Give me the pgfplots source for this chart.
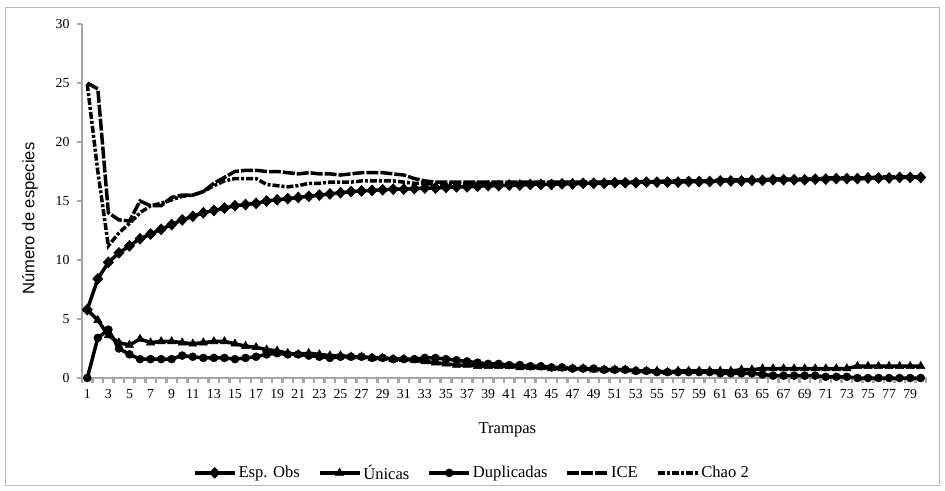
\documentclass[border=0pt]{standalone}
\usepackage{fontspec}
\setmainfont{Liberation Serif}
\newfontfamily\arialf{Liberation Sans}
\usepackage{pgfplots}
\usepackage{pgfplotstable}
\pgfplotsset{compat=1.18}
\definecolor{axgray}{RGB}{165,165,165}
\definecolor{framegray}{RGB}{185,185,185}

\pgfplotstableread{
x obs uni dup ice chao
1 5.8 5.8 0.0 25.0 24.9
2 8.4 4.9 3.4 24.5 17.5
3 9.8 3.6 4.1 14.0 11.2
4 10.6 3.0 2.5 13.4 12.3
5 11.2 2.8 2.0 13.3 13.1
6 11.8 3.3 1.6 15.0 14.0
7 12.2 3.0 1.6 14.6 14.6
8 12.6 3.1 1.6 14.6 14.8
9 13.0 3.1 1.6 15.3 15.1
10 13.4 3.0 1.9 15.5 15.4
11 13.7 2.9 1.8 15.5 15.5
12 14.0 3.0 1.7 15.8 15.8
13 14.2 3.1 1.7 16.5 16.3
14 14.4 3.1 1.7 17.0 16.7
15 14.6 2.9 1.6 17.5 16.9
16 14.7 2.7 1.7 17.6 16.9
17 14.8 2.6 1.8 17.6 16.9
18 15.0 2.4 2.0 17.5 16.4
19 15.1 2.3 2.1 17.5 16.3
20 15.2 2.1 2.0 17.4 16.2
21 15.3 2.0 2.0 17.3 16.3
22 15.4 2.1 1.9 17.4 16.5
23 15.5 2.0 1.8 17.3 16.5
24 15.6 1.9 1.7 17.3 16.6
25 15.7 1.9 1.8 17.2 16.6
26 15.8 1.8 1.8 17.3 16.6
27 15.85 1.8 1.8 17.4 16.7
28 15.9 1.7 1.7 17.4 16.7
29 15.95 1.7 1.7 17.4 16.7
30 16.0 1.6 1.6 17.3 16.7
31 16.0 1.6 1.6 17.2 16.6
32 16.05 1.5 1.6 16.9 16.5
33 16.1 1.4 1.7 16.7 16.5
34 16.1 1.3 1.7 16.6 16.4
35 16.15 1.2 1.6 16.6 16.45
36 16.2 1.1 1.5 16.6 16.45
37 16.2 1.1 1.4 16.6 16.45
38 16.25 1.0 1.3 16.6 16.5
39 16.3 1.0 1.2 16.6 16.5
40 16.3 1.0 1.2 16.6 16.5
41 16.35 1.0 1.1 16.6 16.5
42 16.35 0.9 1.1 16.6 16.5
43 16.4 0.9 1.0 16.6 16.55
44 16.4 0.9 1.0 16.6 16.55
45 16.4 0.8 0.9 16.6 16.55
46 16.45 0.8 0.9 16.6 16.55
47 16.45 0.8 0.8 16.6 16.55
48 16.5 0.8 0.8 16.6 16.55
49 16.5 0.7 0.8 16.6 16.55
50 16.5 0.7 0.7 16.6 16.55
51 16.55 0.7 0.7 16.65 16.6
52 16.55 0.7 0.7 16.65 16.6
53 16.55 0.6 0.6 16.65 16.6
54 16.6 0.6 0.6 16.65 16.6
55 16.6 0.6 0.5 16.65 16.6
56 16.6 0.5 0.5 16.7 16.7
57 16.6 0.6 0.5 16.7 16.7
58 16.65 0.6 0.5 16.7 16.7
59 16.65 0.6 0.5 16.7 16.7
60 16.65 0.6 0.5 16.7 16.7
61 16.7 0.6 0.4 16.8 16.75
62 16.7 0.6 0.4 16.8 16.75
63 16.7 0.7 0.4 16.8 16.75
64 16.75 0.7 0.4 16.8 16.75
65 16.75 0.8 0.3 16.8 16.75
66 16.8 0.8 0.2 16.85 16.85
67 16.8 0.8 0.2 16.85 16.85
68 16.8 0.8 0.2 16.85 16.85
69 16.8 0.8 0.2 16.85 16.85
70 16.85 0.8 0.2 16.85 16.85
71 16.85 0.8 0.1 16.95 16.9
72 16.9 0.8 0.1 16.95 16.9
73 16.9 0.8 0.1 16.95 16.9
74 16.9 1.0 0.0 16.95 16.9
75 16.95 1.0 0.0 16.95 16.9
76 16.95 1.0 0.0 17.05 17.0
77 16.95 1.0 0.0 17.05 17.0
78 17.0 1.0 0.0 17.05 17.0
79 17.0 1.0 0.0 17.05 17.0
80 17.0 1.0 0.0 17.05 17.0
}\datatable

\begin{document}
\begin{tikzpicture}
\begin{axis}[
  x=10.55pt, y=11.8pt,
  xmin=0.5, xmax=80.5, ymin=0, ymax=30,
  axis x line*=bottom, axis y line*=left,
  axis line style={draw=axgray, line width=2pt},
  clip=false,
  /pgf/number format/assume math mode=true,
  ytick={0,5,...,30},
  xtick={0.5,1.5,...,80.5},
  xticklabels={},
  extra x ticks={1,3,...,79},
  extra x tick style={major tick length=0pt},
  tick align=outside,
  major tick length=5pt,
  tick style={draw=axgray, line width=2.5pt},
  tick label style={font=\fontsize{13.8}{16}\selectfont, text=black},
  x tick label style={yshift=-8pt},
  y tick label style={xshift=-4pt},
  xlabel={Trampas},
  ylabel={\arialf Número de especies},
  every axis x label/.style={at={(axis description cs:0.504,-0.147)}, anchor=center, font=\fontsize{16.6}{19}\selectfont},
  every axis y label/.style={at={(axis description cs:-0.0616,0.45)}, anchor=center, rotate=90, font=\fontsize{16.6}{19}\selectfont},
  legend columns=5,
  legend style={draw=none, fill=none, at={(axis description cs:0.462,-0.268)}, anchor=center,
    font=\fontsize{16.6}{19}\selectfont,
    /tikz/every even column/.append style={column sep=16pt},
    inner sep=0pt},
  legend image code/.code={\draw[mark repeat=2,mark phase=2,#1] plot coordinates {(0pt,0pt) (20pt,0pt) (40pt,0pt)};},
  every axis plot/.append style={line width=3.5pt, black},
]
\addplot[mark=diamond*, mark size=5.5pt, mark options={solid, line width=0.5pt, xscale=1.25}] table[x=x,y=obs] {\datatable};
\addlegendentry{Esp. Obs}
\addplot[mark=triangle*, mark size=4.8pt, mark options={solid, line width=0.5pt}] table[x=x,y=uni] {\datatable};
\addlegendentry{Únicas}
\addplot[mark=*, mark size=4pt, mark options={solid, line width=0.5pt}] table[x=x,y=dup] {\datatable};
\addlegendentry{Duplicadas}
\addplot[no marks, dash pattern=on 12pt off 2pt] table[x=x,y=ice] {\datatable};
\addlegendentry{ICE}
\addplot[no marks, dash pattern=on 7pt off 2pt on 3pt off 2pt] table[x=x,y=chao] {\datatable};
\addlegendentry{Chao 2}
\end{axis}
\draw[framegray, line width=1pt] (-76pt,-107pt) rectangle (857pt,370pt);
\path (-82pt,-112pt) rectangle (863pt,378pt);
\end{tikzpicture}
\end{document}
